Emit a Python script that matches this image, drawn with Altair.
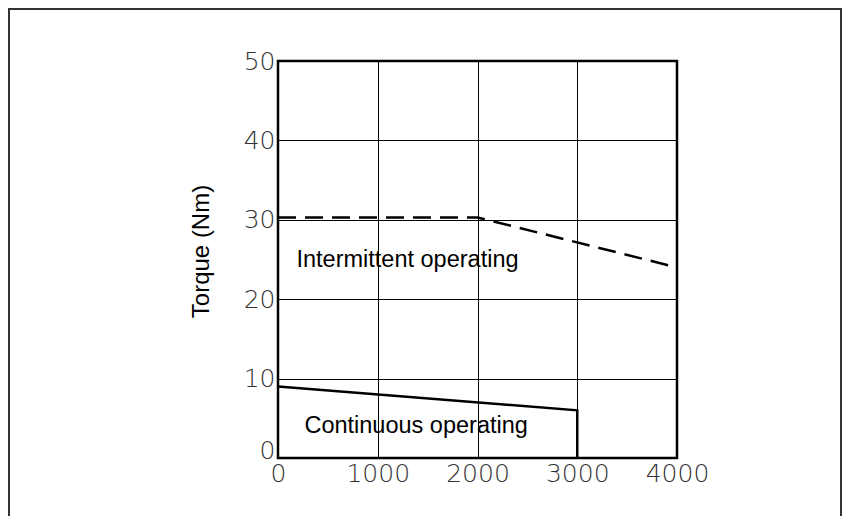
import altair as alt
import pandas as pd

# Data
cont_speed = [0, 3000, 3000]
cont_torque = [9.0, 6.0, 0.0]
inter_speed = [0, 2000, 4000]
inter_torque = [30.3, 30.3, 24.0]
x_ticks = [0, 1000, 2000, 3000, 4000]
y_ticks = [0, 10, 20, 30, 40, 50]
label_text = ["Intermittent operating", "Continuous operating"]
label_x = [185, 265]
label_y = [24.1, 3.2]

W, H = 399, 397
PAD_L, PAD_T = 270, 53
PAD_R, PAD_B = 165, 58

cont = pd.DataFrame({"speed": cont_speed, "torque": cont_torque, "i": range(len(cont_speed))})
inter = pd.DataFrame({"speed": inter_speed, "torque": inter_torque, "i": range(len(inter_speed))})
labels = pd.DataFrame({"text": label_text, "speed": label_x, "torque": label_y})

xscale = alt.Scale(domain=[0, 4000], nice=False)
yscale = alt.Scale(domain=[0, 50], nice=False)

x_axis = alt.Axis(values=x_ticks, title=None, grid=True, ticks=False, domain=False,
                  labelFlush=False, labelPadding=3, format="d")
y_axis = alt.Axis(values=y_ticks, title="Torque (Nm)", grid=True, ticks=False, domain=False,
                  labelFlush=False, labelPadding=3,
                  labelOffset={"expr": "datum.value == 0 ? -8 : 0"},
                  titleX=-65, titleY=190,
                  titleFont="Liberation Sans", titleFontSize=24, titleFontWeight="normal",
                  titleColor="#000")

frame = alt.Chart(pd.DataFrame({"a": [0]})).mark_rect(
    fill=None, stroke="#333", strokeWidth=2
).encode(
    x=alt.value(-PAD_L + 1), x2=alt.value(W + PAD_R - 1),
    y=alt.value(-PAD_T + 1), y2=alt.value(H + PAD_B + 20),
)

cont_line = alt.Chart(cont).mark_line(color="black", strokeWidth=2.5).encode(
    x=alt.X("speed:Q", scale=xscale, axis=x_axis),
    y=alt.Y("torque:Q", scale=yscale, axis=y_axis),
    order="i:O",
)

inter_line = alt.Chart(inter).mark_line(color="black", strokeWidth=2.5, strokeDash=[18, 9]).encode(
    x=alt.X("speed:Q", scale=xscale),
    y=alt.Y("torque:Q", scale=yscale),
    order="i:O",
)

text = alt.Chart(labels).mark_text(
    align="left", baseline="alphabetic", font="Liberation Sans", fontSize=23.5, color="black"
).encode(
    x=alt.X("speed:Q", scale=xscale),
    y=alt.Y("torque:Q", scale=yscale),
    text="text:N",
)

chart = alt.layer(frame, cont_line, inter_line, text).properties(
    width=W, height=H,
    autosize=alt.AutoSizeParams(type="none"),
    padding={"left": PAD_L, "top": PAD_T, "right": PAD_R, "bottom": PAD_B},
    background="white",
).configure_view(
    stroke="black", strokeWidth=2.5
).configure_axis(
    gridColor="black", gridWidth=1, gridOpacity=1,
    labelFont="DejaVu Sans", labelFontWeight=200, labelFontSize=25, labelColor="#333",
)

chart.save("out.html", embed_options={"renderer": "svg", "actions": False})
